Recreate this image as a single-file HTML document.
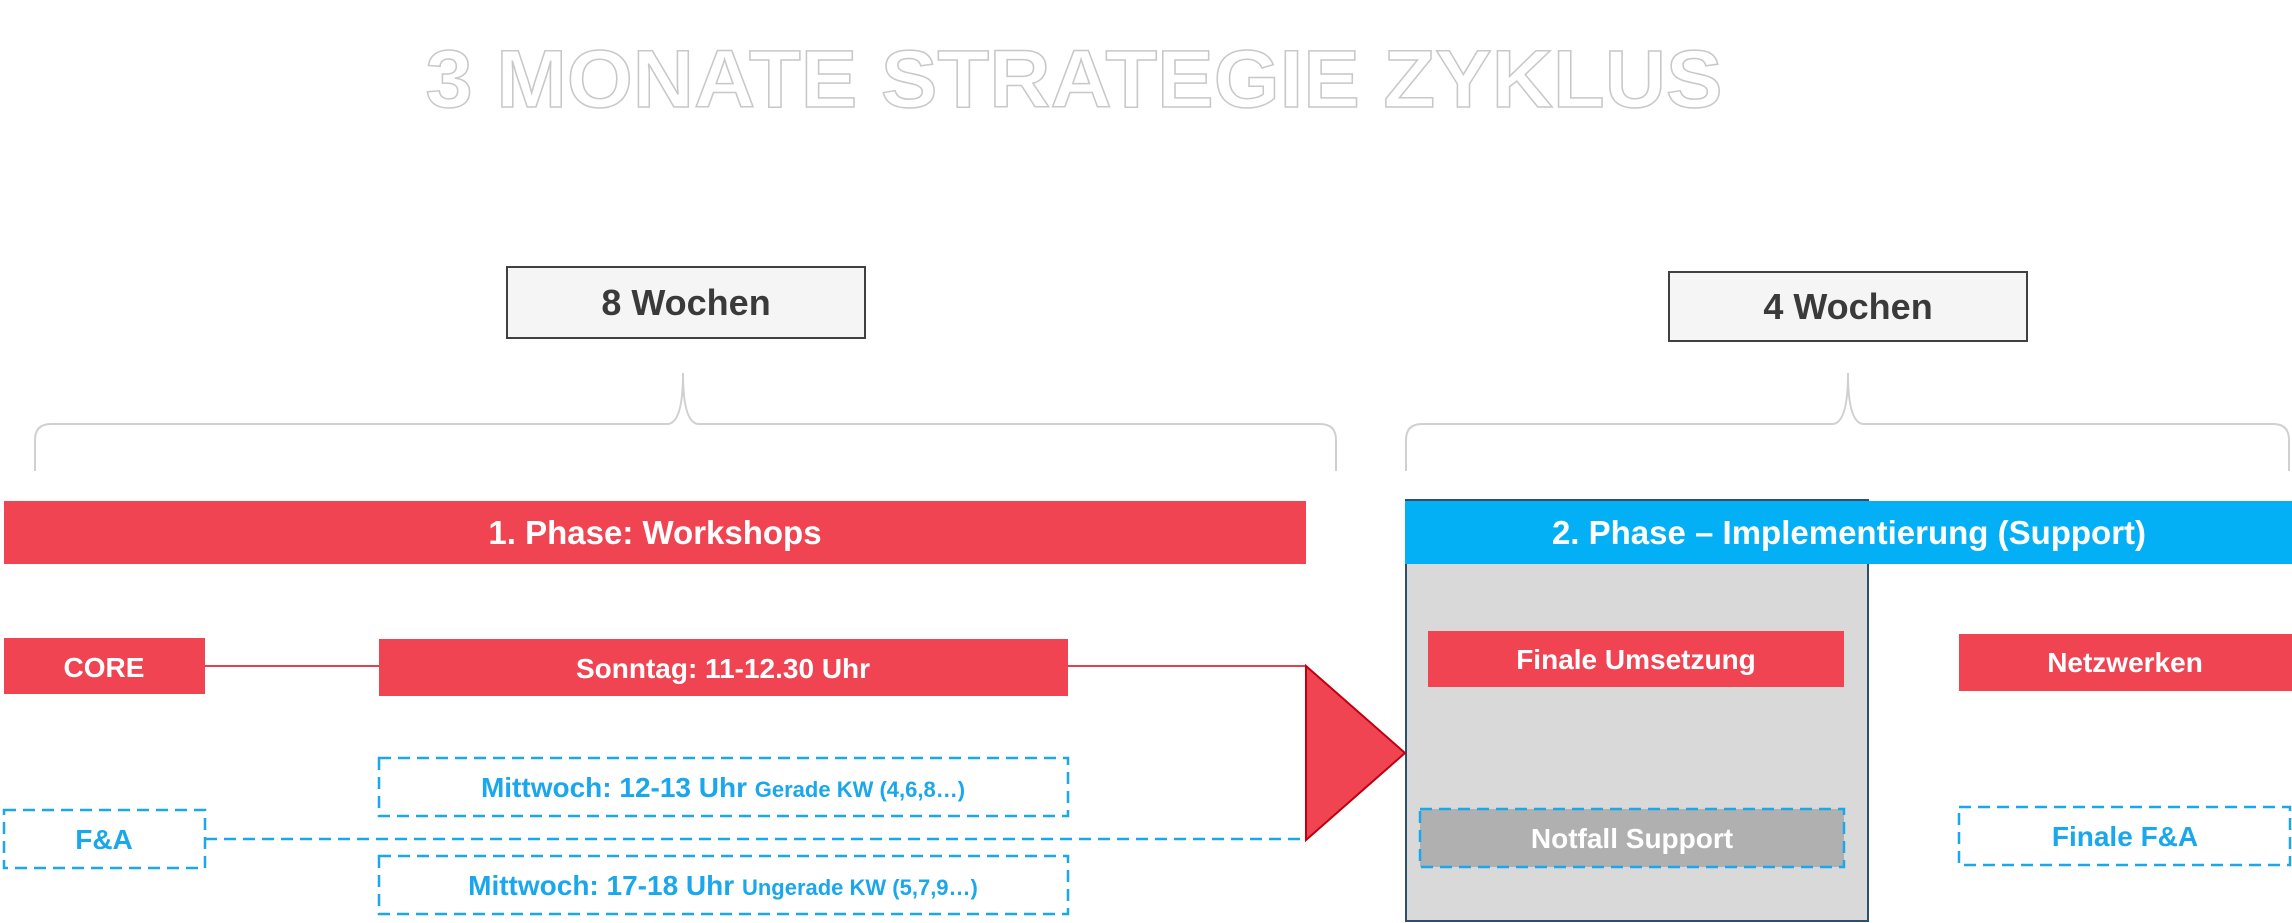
<!DOCTYPE html>
<html><head><meta charset="utf-8"><style>
html,body{margin:0;padding:0;background:#fff;}
svg{display:block;font-family:"Liberation Sans",sans-serif;}
</style></head><body>
<svg width="2292" height="923" viewBox="0 0 2292 923" xmlns="http://www.w3.org/2000/svg">
<text x="1074" y="107" text-anchor="middle" font-size="82" font-weight="bold" fill="#fff" stroke="#c8c8c8" stroke-width="1.5" textLength="1297" lengthAdjust="spacingAndGlyphs">3 MONATE STRATEGIE ZYKLUS</text>

<rect x="507" y="267" width="358" height="71" fill="#f5f5f5" stroke="#404040" stroke-width="2"/>
<text x="686" y="315" text-anchor="middle" font-size="36" font-weight="bold" fill="#3a3a3a">8 Wochen</text>
<rect x="1669" y="272" width="358" height="69" fill="#f5f5f5" stroke="#404040" stroke-width="2"/>
<text x="1848" y="319" text-anchor="middle" font-size="36" font-weight="bold" fill="#3a3a3a">4 Wochen</text>

<path d="M35,471 L35,440 Q35,424 51,424 L667,424 Q683,424 683,373 Q683,424 699,424 L1320,424 Q1336,424 1336,440 L1336,471" fill="none" stroke="#d0d0d0" stroke-width="2"/>
<path d="M1406,471 L1406,440 Q1406,424 1422,424 L1832,424 Q1848,424 1848,373 Q1848,424 1864,424 L2273,424 Q2289,424 2289,440 L2289,471" fill="none" stroke="#d0d0d0" stroke-width="2"/>

<rect x="4" y="501" width="1302" height="63" fill="#f14452"/>
<text x="655" y="544" text-anchor="middle" font-size="33" font-weight="bold" fill="#fff">1. Phase: Workshops</text>

<rect x="1406" y="500" width="462" height="421" fill="#d9d9d9" stroke="#2f4f6a" stroke-width="2"/>
<rect x="1405" y="501" width="887" height="63" fill="#03b0f5"/>
<text x="1849" y="544" text-anchor="middle" font-size="33" font-weight="bold" fill="#fff">2. Phase – Implementierung (Support)</text>

<line x1="205" y1="666" x2="379" y2="666" stroke="#e04050" stroke-width="2"/>
<line x1="1068" y1="666" x2="1306" y2="666" stroke="#e04050" stroke-width="2"/>
<line x1="205" y1="839" x2="1306" y2="839" stroke="#1aa7ec" stroke-width="2.5" stroke-dasharray="12,7"/>
<polygon points="1306,666 1405,753 1306,840" fill="#f14452" stroke="#c00010" stroke-width="2"/>

<rect x="4" y="638" width="201" height="56" fill="#f14452"/>
<text x="104" y="677" text-anchor="middle" font-size="28" font-weight="bold" fill="#fff">CORE</text>
<rect x="379" y="639" width="689" height="57" fill="#f14452"/>
<text x="723" y="678" text-anchor="middle" font-size="28" font-weight="bold" fill="#fff">Sonntag: 11-12.30 Uhr</text>

<rect x="379" y="758" width="689" height="58" fill="#fff" stroke="#1aa7ec" stroke-width="2.5" stroke-dasharray="12,7"/>
<text x="723" y="797" text-anchor="middle" font-weight="bold" fill="#1aa7ec"><tspan font-size="28">Mittwoch: 12-13 Uhr </tspan><tspan font-size="22">Gerade KW (4,6,8…)</tspan></text>
<rect x="4" y="810" width="201" height="58" fill="#fff" stroke="#1aa7ec" stroke-width="2.5" stroke-dasharray="12,7"/>
<text x="104" y="849" text-anchor="middle" font-size="28" font-weight="bold" fill="#1aa7ec">F&amp;A</text>
<rect x="379" y="856" width="689" height="58" fill="#fff" stroke="#1aa7ec" stroke-width="2.5" stroke-dasharray="12,7"/>
<text x="723" y="895" text-anchor="middle" font-weight="bold" fill="#1aa7ec"><tspan font-size="28">Mittwoch: 17-18 Uhr </tspan><tspan font-size="22">Ungerade KW (5,7,9…)</tspan></text>

<rect x="1428" y="631" width="416" height="56" fill="#f14452"/>
<text x="1636" y="669" text-anchor="middle" font-size="28" font-weight="bold" fill="#fff">Finale Umsetzung</text>
<rect x="1420" y="809" width="424" height="58" fill="#b0b0b0" stroke="#1aa7ec" stroke-width="2.5" stroke-dasharray="12,7"/>
<text x="1632" y="848" text-anchor="middle" font-size="28" font-weight="bold" fill="#fff">Notfall Support</text>

<rect x="1959" y="634" width="333" height="57" fill="#f14452"/>
<text x="2125" y="672" text-anchor="middle" font-size="28" font-weight="bold" fill="#fff">Netzwerken</text>
<rect x="1959" y="807" width="331" height="58" fill="#fff" stroke="#1aa7ec" stroke-width="2.5" stroke-dasharray="12,7"/>
<text x="2125" y="846" text-anchor="middle" font-size="28" font-weight="bold" fill="#1aa7ec">Finale F&amp;A</text>
</svg>
</body></html>
